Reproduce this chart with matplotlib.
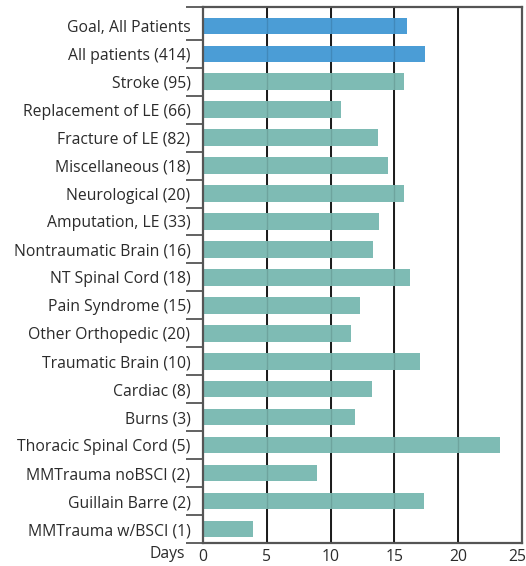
import matplotlib
matplotlib.use("Agg")
import matplotlib.pyplot as plt
import matplotlib.transforms as mtransforms
import numpy as np

categories = [
    "Goal, All Patients", "All patients (414)", "Stroke (95)", "Replacement of LE (66)",
    "Fracture of LE (82)", "Miscellaneous (18)", "Neurological (20)", "Amputation, LE (33)",
    "Nontraumatic Brain (16)", "NT Spinal Cord (18)", "Pain Syndrome (15)",
    "Other Orthopedic (20)", "Traumatic Brain (10)", "Cardiac (8)", "Burns (3)",
    "Thoracic Spinal Cord (5)", "MMTrauma noBSCI (2)", "Guillain Barre (2)", "MMTrauma w/BSCI (1)",
]
days = [16.0, 17.4, 15.75, 10.8, 13.7, 14.5, 15.75, 13.8, 13.3, 16.2, 12.3,
        11.6, 17.0, 13.25, 11.9, 23.3, 8.9, 17.3, 3.9]
highlight = [True, True] + [False] * 17
xticks = [0, 5, 10, 15, 20, 25]

blue = "#4b9dd6"
teal = "#7ebbb4"
spine_gray = "#555555"
text_col = "#2b2b2b"
fs = 11.3

plt.rcParams['font.family'] = ['Open Sans', 'DejaVu Sans']

W, H = 526, 566
fig = plt.figure(figsize=(W / 100, H / 100), dpi=100)
ax = fig.add_axes([203 / W, 1 - 543 / H, (522 - 203) / W, (543 - 6.5) / H])

n = len(categories)
y = np.arange(n)
colors = [blue if h else teal for h in highlight]
ax.barh(y, days, height=0.59, color=colors, zorder=2)

for xv in xticks[1:-1]:
    ax.axvline(xv, color="#1a1a1a", lw=1.4, zorder=1)
    ax.axvline(xv, color="#000000", lw=1.0, alpha=0.12, zorder=3)

top = -0.5 - 0.19
ax.set_xlim(0, 25)
ax.set_ylim(n - 0.5, top)
ax.set_xticks(xticks)
ax.set_yticks(y)
ax.set_yticklabels(categories)
ax.set_yticks([top] + list(np.arange(0.5, n, 1.0)), minor=True)

ax.tick_params(axis='y', which='major', length=0, pad=9, labelsize=fs, labelcolor=text_col)
ax.tick_params(axis='y', which='minor', length=12.5, width=1.3, color=spine_gray, direction='out')
ax.tick_params(axis='x', length=0, pad=4, labelsize=fs, labelcolor=text_col)

# nudge the last x tick label slightly left so it stays inside the canvas
last = ax.get_xticklabels()[-1]
last.set_transform(last.get_transform() + mtransforms.ScaledTranslation(-5 / 100, 0, fig.dpi_scale_trans))

for side in ['top', 'bottom', 'left', 'right']:
    ax.spines[side].set_color(spine_gray)
    ax.spines[side].set_linewidth(1.6)

fig.text(185 / W, 1 - 554 / H, "Days", ha='right', va='center', fontsize=fs, color=text_col)

fig.savefig("out.png", dpi=100)
